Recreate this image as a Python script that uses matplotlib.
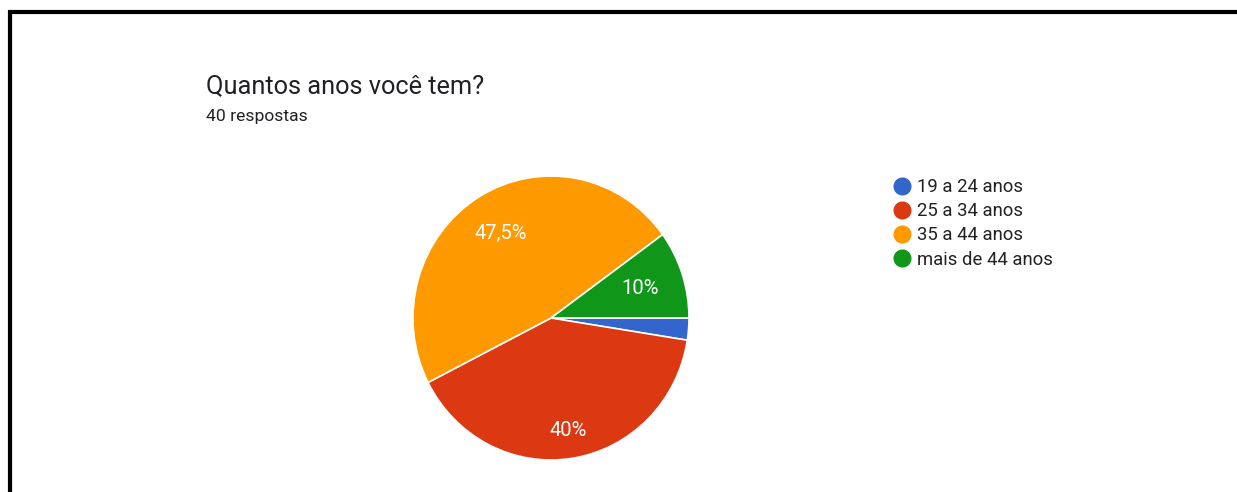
import matplotlib
matplotlib.use("Agg")
import numpy as np
import matplotlib.pyplot as plt
from matplotlib.lines import Line2D

# Dados
categorias = ["19 a 24 anos", "25 a 34 anos", "35 a 44 anos", "mais de 44 anos"]
respostas = [1, 16, 19, 4]
rotulos_pct = ["", "40%", "47,5%", "10%"]
cores = ["#3366CC", "#DC3912", "#FF9900", "#109618"]

titulo = "Quantos anos você tem?"
subtitulo = "40 respostas"

W, H = 1237, 492
plt.rcParams["font.family"] = ["Roboto", "DejaVu Sans"]
fig = plt.figure(figsize=(W / 100, H / 100), dpi=100)
fig.patch.set_facecolor("white")

# camada de fundo em pixels (moldura)
bg = fig.add_axes([0, 0, 1, 1])
bg.set_xlim(0, W)
bg.set_ylim(H, 0)
bg.axis("off")
bg.add_line(Line2D([8, W], [12, 12], color="black", lw=3.0, solid_capstyle="butt"))
bg.add_line(Line2D([10, 10], [10, H], color="black", lw=3.0, solid_capstyle="butt"))

fig.text(206 / W, 1 - 86 / H, titulo, fontsize=18.3, color="#202124", va="center")
fig.text(206 / W, 1 - 117 / H, subtitulo, fontsize=12.6, color="#202124", va="center")

# pizza
cx, cy, rx, ry = 551, 318, 138, 142
ax = fig.add_axes([(cx - rx) / W, (H - cy - ry) / H, 2 * rx / W, 2 * ry / H])
wedges, _ = ax.pie(respostas, colors=cores, startangle=0, counterclock=False,
                   wedgeprops=dict(edgecolor="white", linewidth=1.2))
ax.set_xlim(-1.0, 1.0)
ax.set_ylim(-1.0, 1.0)
ax.set_aspect("auto")
ax.axis("off")

tot = sum(respostas)
ang = 0.0
dist = [0.0, 0.8, 0.7, 0.68]
for v, lab, d in zip(respostas, rotulos_pct, dist):
    meio = ang - v / tot * 180
    ang -= v / tot * 360
    if lab:
        t = np.deg2rad(meio)
        ax.text(d * np.cos(t), d * np.sin(t), lab, ha="center", va="center",
                color="white", fontsize=14.5)

handles = [Line2D([], [], marker="o", linestyle="none", markersize=12,
                  markerfacecolor=c, markeredgecolor=c) for c in cores]
fig.legend(handles, categorias, loc="upper left",
           bbox_to_anchor=(884 / W, 1 - 169 / H), frameon=False,
           fontsize=13.3, handletextpad=0.4, labelspacing=0.33,
           handlelength=0.9, borderpad=0, labelcolor="#222222")

fig.savefig("out.png", dpi=100, facecolor="white")
